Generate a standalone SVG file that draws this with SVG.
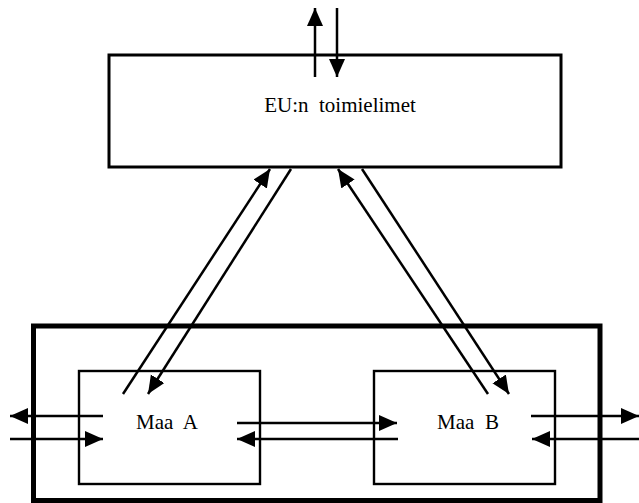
<svg xmlns="http://www.w3.org/2000/svg" width="639" height="503" viewBox="0 0 639 503">
<style>
.box{fill:none;stroke:#000;stroke-width:2.4}
.outer{fill:none;stroke:#000;stroke-width:5}
.top{fill:#fff;stroke:#000;stroke-width:3}
.lbl{font-size:21px;fill:#000}
.arr{fill:none;stroke:#000;stroke-width:2.5;marker-end:url(#ah)}
</style>
<defs>
<marker id="ah" markerUnits="userSpaceOnUse" markerWidth="19" markerHeight="17" refX="18" refY="8" orient="auto">
<path d="M0,0 L18,8 L0,16 z" fill="#000"/>
</marker>
</defs>
<rect width="639" height="503" fill="#fff"/>
<g id="eu">
<rect class="top" x="109" y="55" width="452" height="112"/>
<text class="lbl" font-family="'Liberation Serif', 'Times New Roman', serif" x="340" y="112" text-anchor="middle" xml:space="preserve">EU:n  toimielimet</text>
</g>
<g id="outer">
<rect class="outer" x="33.5" y="326" width="566.5" height="174.5"/>
</g>
<g id="maaA">
<rect class="box" x="79" y="371" width="181" height="113"/>
<text class="lbl" font-family="'Liberation Serif', 'Times New Roman', serif" x="167" y="429" text-anchor="middle" xml:space="preserve">Maa  A</text>
</g>
<g id="maaB">
<rect class="box" x="374" y="371" width="181" height="113"/>
<text class="lbl" font-family="'Liberation Serif', 'Times New Roman', serif" x="468" y="429" text-anchor="middle" xml:space="preserve">Maa  B</text>
</g>
<g id="connectors">
<line class="arr" x1="315" y1="77" x2="315" y2="8"/>
<line class="arr" x1="337" y1="8" x2="337" y2="77"/>
<line class="arr" x1="123" y1="394" x2="270" y2="169"/>
<line class="arr" x1="291" y1="169" x2="148" y2="394"/>
<line class="arr" x1="488" y1="394" x2="338" y2="169"/>
<line class="arr" x1="362" y1="169" x2="509" y2="394"/>
<line class="arr" x1="237" y1="423" x2="397" y2="423"/>
<line class="arr" x1="398" y1="439" x2="237" y2="439"/>
<line class="arr" x1="103" y1="416" x2="10" y2="416"/>
<line class="arr" x1="10" y1="439" x2="103" y2="439"/>
<line class="arr" x1="531" y1="416" x2="639" y2="416"/>
<line class="arr" x1="639" y1="439" x2="532" y2="439"/>
</g>
</svg>
